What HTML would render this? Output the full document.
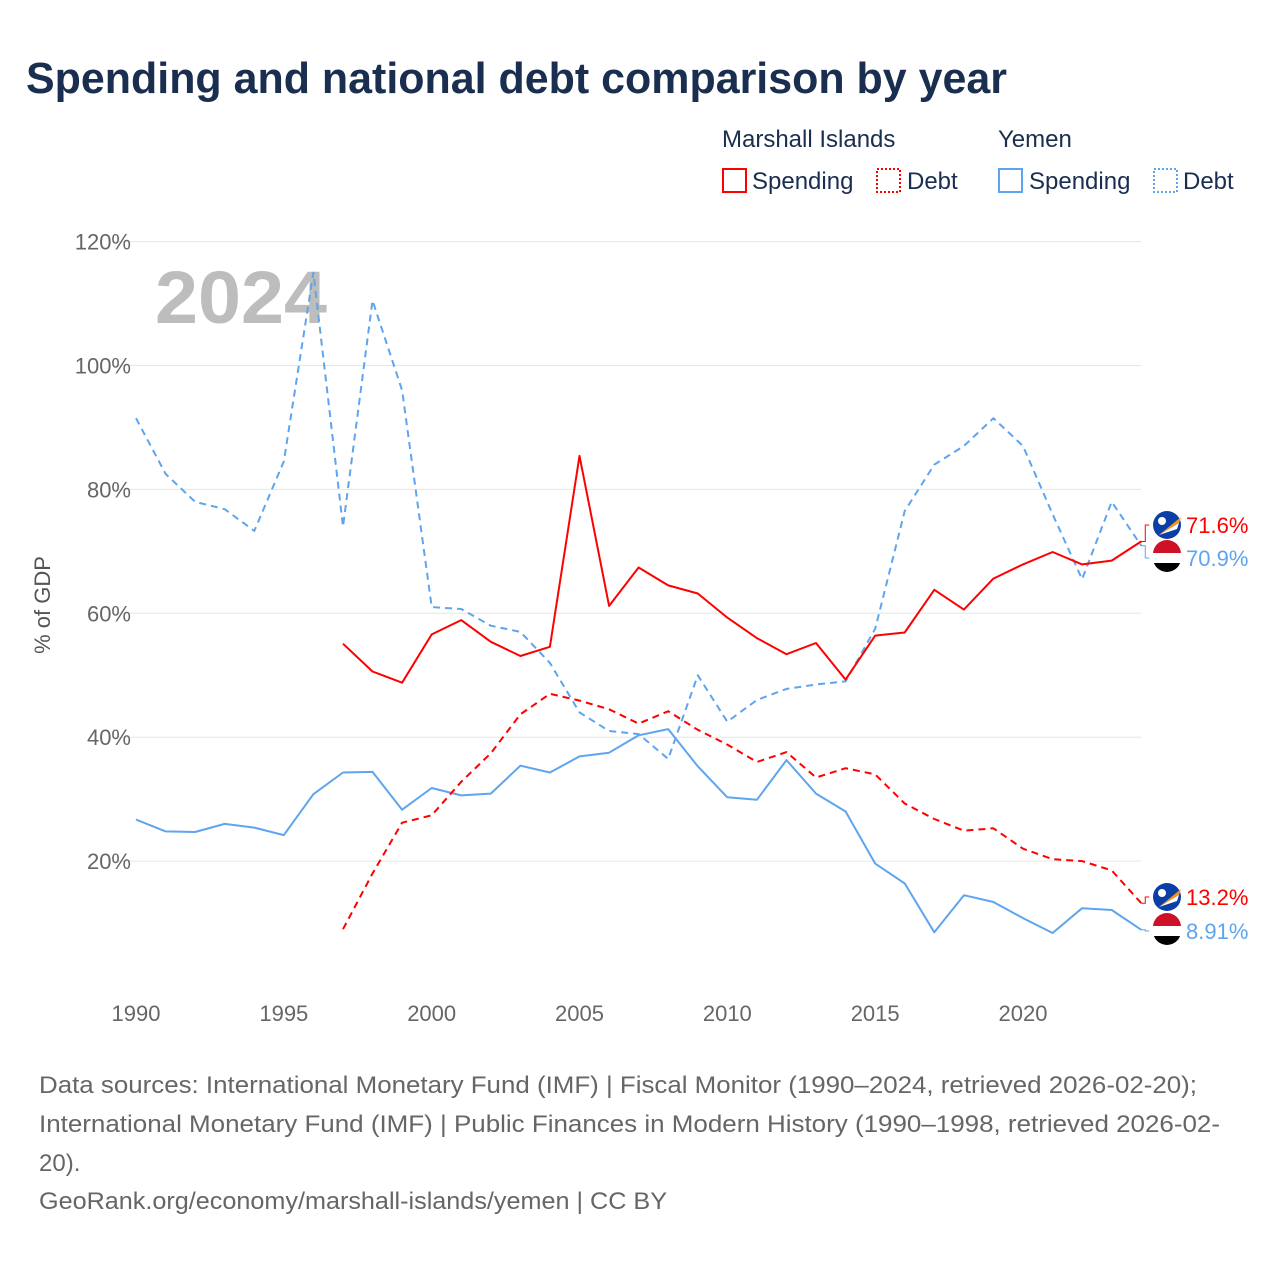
<!DOCTYPE html>
<html><head><meta charset="utf-8"><style>
body{margin:0;background:#fff;font-family:"Liberation Sans",sans-serif;}
#wrap{position:relative;width:1280px;height:1280px;}
</style></head><body>
<div id="wrap">
<svg id="svg" width="1280" height="1280" xmlns="http://www.w3.org/2000/svg">
<text x="26" y="93" font-size="44" font-weight="bold" fill="#1a2e4f" textLength="981" lengthAdjust="spacingAndGlyphs">Spending and national debt comparison by year</text>
<g font-size="24" fill="#1a2e4f">
<text x="722" y="147">Marshall Islands</text>
<text x="998" y="147">Yemen</text>
<g><rect x="723" y="169" width="23" height="23" fill="none" stroke="#f00" stroke-width="2"/><text x="752" y="189">Spending</text></g>
<g><rect x="877" y="169" width="23" height="23" fill="none" stroke="#f00" stroke-width="2" stroke-dasharray="2,2"/><text x="907" y="189">Debt</text></g>
<g><rect x="999" y="169" width="23" height="23" fill="none" stroke="#5ea4ee" stroke-width="2"/><text x="1029" y="189">Spending</text></g>
<g><rect x="1154" y="169" width="23" height="23" fill="none" stroke="#5ea4ee" stroke-width="2" stroke-dasharray="2,2"/><text x="1183" y="189">Debt</text></g>
</g>
<text x="155" y="323" font-size="74" font-weight="bold" fill="#bdbdbd" textLength="172" lengthAdjust="spacingAndGlyphs">2024</text>
<text transform="translate(50,605) rotate(-90)" text-anchor="middle" font-size="22" fill="#555">% of GDP</text>
<g id="grid"></g><g id="series"></g><g id="ends"></g>
<g font-size="24" fill="#666">
<text x="39" y="1093" textLength="1158" lengthAdjust="spacingAndGlyphs">Data sources: International Monetary Fund (IMF) | Fiscal Monitor (1990–2024, retrieved 2026-02-20);</text>
<text x="39" y="1132" textLength="1181" lengthAdjust="spacingAndGlyphs">International Monetary Fund (IMF) | Public Finances in Modern History (1990–1998, retrieved 2026-02-</text>
<text x="39" y="1171">20).</text>
<text x="39" y="1209" textLength="628" lengthAdjust="spacingAndGlyphs">GeoRank.org/economy/marshall-islands/yemen | CC BY</text>
</g>
</svg></div>
<script>
const years=[];for(let y=1990;y<=2024;y++)years.push(y);
const yTicks=[20,40,60,80,100,120];
const xTicks=[1990,1995,2000,2005,2010,2015,2020];
const yeDebt=[91.5,82.5,78,76.8,73.3,84.5,115,74,110.5,96,61,60.7,58,57,52,44,41,40.5,36.5,50,42.5,46,47.8,48.5,49,57.5,76.5,84,87,91.5,87,76,65.5,78,70.9];
const yeSpend=[26.7,24.8,24.7,26,25.4,24.2,30.8,34.3,34.4,28.3,31.8,30.6,30.9,35.4,34.3,36.9,37.5,40.3,41.3,35.3,30.3,29.9,36.3,30.9,28,19.6,16.4,8.5,14.5,13.4,10.8,8.4,12.4,12.1,8.91];
const miSpend=[null,null,null,null,null,null,null,55.1,50.6,48.8,56.6,58.9,55.4,53.1,54.6,85.4,61.2,67.4,64.5,63.2,59.3,56,53.4,55.2,49.3,56.4,56.9,63.8,60.6,65.6,67.9,69.9,67.9,68.5,71.6];
const miDebt=[null,null,null,null,null,null,null,9,18,26.2,27.4,32.8,37.4,43.7,47,45.9,44.5,42.2,44.2,41.2,38.8,36,37.6,33.5,35,34,29.3,26.8,24.9,25.3,22,20.3,20,18.5,13.2];
const X=y=>136+(y-1990)*(1023-136)/30;
const Y=v=>985-v*6.195;
const NS="http://www.w3.org/2000/svg";
function mk(t,a,p){const e=document.createElementNS(NS,t);for(const k in a)e.setAttribute(k,a[k]);p.appendChild(e);return e;}
const grid=document.getElementById('grid');
yTicks.forEach(v=>{
 const l=mk('line',{x1:112,x2:1141,y1:Y(v),y2:Y(v),stroke:'#e6e6e6','stroke-width':1},grid);
 
 
 const t=mk('text',{x:131,y:Y(v)+8,'text-anchor':'end','font-size':22,fill:'#666'},grid);t.textContent=v+'%';
 
 
});
xTicks.forEach(v=>{
 const t=mk('text',{x:X(v),y:1021,'text-anchor':'middle','font-size':22,fill:'#666'},grid);t.textContent=v;
 
 
});
const ser=document.getElementById('series');
function line(data,color,dash,name){
 let d='';data.forEach((v,i)=>{if(v==null)return;d+=(d?'L':'M')+X(years[i]).toFixed(1)+','+Y(v).toFixed(1);});
 const p=mk('path',{d:d,fill:'none',stroke:color,'stroke-width':2,'stroke-dasharray':dash||'none','stroke-linejoin':'round'},ser);
 
 
}
line(yeDebt,'#5ea4ee','7,5','line-yemen-debt');
line(yeSpend,'#5ea4ee','','line-yemen-spending');
line(miDebt,'#f00','7,5','line-marshall-debt');
line(miSpend,'#f00','','line-marshall-spending');
const ends=document.getElementById('ends');
function endLabel(v,ly,color,flag,name){
 const x0=X(2024);
 mk('path',{d:`M${x0},${Y(v)}H${x0+4}V${ly}H${x0+8}`,fill:'none',stroke:color,'stroke-width':1},ends);
 const g=mk('g',{},ends);
 
 
 const cx=1167;
 if(flag=='mi'){
  mk('circle',{cx:cx,cy:ly,r:14,fill:'#0b3fa8'},g);
  mk('path',{d:`M${cx-8},${ly+10}L${cx+14},${ly-8}L${cx+12},${ly-2}Z`,fill:'#f7941d'},g);
  mk('path',{d:`M${cx-8},${ly+10}L${cx+12},${ly-2}L${cx+10},${ly+4}Z`,fill:'#fff'},g);
  mk('circle',{cx:cx-5,cy:ly-4,r:4,fill:'#fff'},g);
 }else{
  mk('circle',{cx:cx,cy:ly,r:14,fill:'#000'},g);
  mk('path',{d:`M${cx-14},${ly-4}A14,14 0 0 1 ${cx+14},${ly-4}Z`,fill:'#ce1126'},g);
  mk('rect',{x:cx-14,y:ly-5,width:28,height:10,fill:'#fff'},g);
 }
 const t=mk('text',{x:1186,y:ly+8,'font-size':22,fill:color},g);t.textContent=v+'%';
}
endLabel(miSpend[34],525,'#f00','mi','end-label-mi-spending');
endLabel(yeDebt[34],558,'#5ea4ee','ye','end-label-ye-debt');
endLabel(miDebt[34],897,'#f00','mi','end-label-mi-debt');
endLabel(yeSpend[34],931,'#5ea4ee','ye','end-label-ye-spending');
</script>
</body></html>
